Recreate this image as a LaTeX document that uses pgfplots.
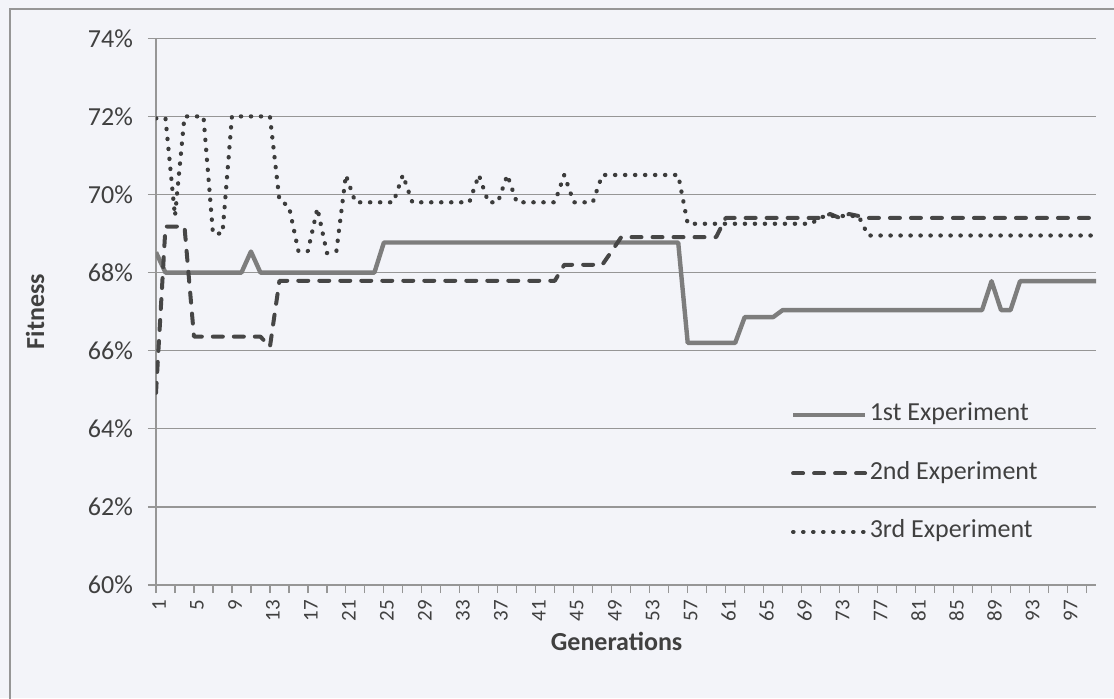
\documentclass[border=0pt]{standalone}
\usepackage{fontspec}
\setmainfont{Carlito}
\usepackage{pgfplots}
\usepackage{pgfplotstable}
\pgfplotsset{compat=1.18}

\definecolor{bgcol}{RGB}{243,244,249}
\definecolor{txt}{RGB}{64,64,64}
\definecolor{gridc}{RGB}{150,150,150}
\definecolor{sone}{RGB}{125,125,125}
\definecolor{stwo}{RGB}{70,70,70}
\definecolor{sthree}{RGB}{60,60,60}

% fitness (%) per generation for the three runs
\pgfplotstableread{
g   s1     s2     s3
1   68.52  64.92  71.95
2   68.00  69.18  71.95
3   68.00  69.18  69.45
4   68.00  69.18  72.00
5   68.00  66.36  72.00
6   68.00  66.36  72.00
7   68.00  66.36  69.00
8   68.00  66.36  69.00
9   68.00  66.36  72.00
10  68.00  66.36  72.00
11  68.54  66.36  72.00
12  68.00  66.36  72.00
13  68.00  66.10  72.00
14  68.00  67.79  69.85
15  68.00  67.79  69.70
16  68.00  67.79  68.55
17  68.00  67.79  68.55
18  68.00  67.79  69.65
19  68.00  67.79  68.50
20  68.00  67.79  68.55
21  68.00  67.79  70.50
22  68.00  67.79  69.80
23  68.00  67.79  69.80
24  68.00  67.79  69.80
25  68.77  67.79  69.80
26  68.77  67.79  69.80
27  68.77  67.79  70.50
28  68.77  67.79  69.80
29  68.77  67.79  69.80
30  68.77  67.79  69.80
31  68.77  67.79  69.80
32  68.77  67.79  69.80
33  68.77  67.79  69.80
34  68.77  67.79  69.80
35  68.77  67.79  70.50
36  68.77  67.79  69.80
37  68.77  67.79  69.80
38  68.77  67.79  70.50
39  68.77  67.79  69.80
40  68.77  67.79  69.80
41  68.77  67.79  69.80
42  68.77  67.79  69.80
43  68.77  67.79  69.80
44  68.77  68.20  70.50
45  68.77  68.20  69.80
46  68.77  68.20  69.80
47  68.77  68.20  69.80
48  68.77  68.20  70.50
49  68.77  68.55  70.50
50  68.77  68.91  70.50
51  68.77  68.91  70.50
52  68.77  68.91  70.50
53  68.77  68.91  70.50
54  68.77  68.91  70.50
55  68.77  68.91  70.50
56  68.77  68.91  70.50
57  66.20  68.91  69.25
58  66.20  68.91  69.25
59  66.20  68.91  69.25
60  66.20  68.91  69.25
61  66.20  69.40  69.25
62  66.20  69.40  69.25
63  66.86  69.40  69.25
64  66.86  69.40  69.25
65  66.86  69.40  69.25
66  66.86  69.40  69.25
67  67.04  69.40  69.25
68  67.04  69.40  69.25
69  67.04  69.40  69.25
70  67.04  69.40  69.25
71  67.04  69.40  69.42
72  67.04  69.50  69.45
73  67.04  69.40  69.45
74  67.04  69.50  69.45
75  67.04  69.45  69.45
76  67.04  69.40  68.95
77  67.04  69.40  68.95
78  67.04  69.40  68.95
79  67.04  69.40  68.95
80  67.04  69.40  68.95
81  67.04  69.40  68.95
82  67.04  69.40  68.95
83  67.04  69.40  68.95
84  67.04  69.40  68.95
85  67.04  69.40  68.95
86  67.04  69.40  68.95
87  67.04  69.40  68.95
88  67.04  69.40  68.95
89  67.78  69.40  68.95
90  67.04  69.40  68.95
91  67.04  69.40  68.95
92  67.78  69.40  68.95
93  67.78  69.40  68.95
94  67.78  69.40  68.95
95  67.78  69.40  68.95
96  67.78  69.40  68.95
97  67.78  69.40  68.95
98  67.78  69.40  68.95
99  67.78  69.40  68.95
100 67.78  69.40  68.95
}\fitness

\begin{document}
\begin{tikzpicture}
% chart area and its frame
\fill[bgcol] (-78pt,-56.5pt) rectangle (479pt,292.5pt);
\useasboundingbox (-78pt,-56.5pt) rectangle (479pt,292.5pt);
\draw[gridc, line width=0.7pt] (-73pt,-70pt) -- (-73pt,288pt) -- (490pt,288pt);
\begin{axis}[
  at={(0pt,0pt)}, anchor=south west,
  scale only axis, width=470pt, height=273.35pt,
  xmin=1, xmax=100, ymin=60, ymax=74,
  axis x line*=bottom, axis y line*=left,
  axis line style={-, draw=gridc, line width=0.7pt},
  ytick={60,62,...,74},
  ymajorgrids, grid style={gridc, line width=0.6pt},
  xtick={1,5,...,97}, minor xtick={3,7,...,99},
  tick align=outside, major tick length=4pt, minor tick length=4pt,
  tick style={draw=gridc, line width=0.6pt},
  /pgf/number format/assume math mode=true,
  yticklabel={\pgfmathprintnumber{\tick}\%},
  yticklabel style={font=\fontsize{13}{15}\selectfont, color=txt, xshift=-4pt},
  xticklabel style={rotate=90, anchor=east, font=\fontsize{10.5}{12}\selectfont, color=txt, yshift=-1.5pt},
  xlabel={Generations}, ylabel={Fitness},
  xlabel style={at={(axis description cs:0.49,-0.103)}, anchor=center, font=\bfseries\fontsize{13}{15}\selectfont, color=txt},
  ylabel style={at={(axis description cs:-0.1287,0.5)}, anchor=center, rotate=0, font=\bfseries\fontsize{13}{15}\selectfont, color=txt},
  legend image code/.code={\draw[#1] (0pt,0pt) -- (36pt,0pt);},
  legend cell align=left,
  legend style={draw=none, fill=none, at={(axis description cs:0.675,0.204)}, anchor=west,
    font=\fontsize{13}{15}\selectfont, text=txt, inner sep=0pt, row sep=14.75pt,
    nodes={inner sep=1.25pt, text height=9pt, text depth=3pt}},
]
\addplot[sone, line width=2.2pt, line join=round] table[x=g, y=s1] {\fitness};
\addlegendentry{1st Experiment}
\addplot[stwo, line width=2pt, line cap=round, line join=round, dash pattern=on 5pt off 5.5pt] table[x=g, y=s2] {\fitness};
\addlegendentry{2nd Experiment}
\addplot[sthree, line width=2.1pt, line cap=round, line join=round, dash pattern=on 0.2pt off 4.8pt] table[x=g, y=s3] {\fitness};
\addlegendentry{3rd Experiment}
\end{axis}
\end{tikzpicture}
\end{document}
